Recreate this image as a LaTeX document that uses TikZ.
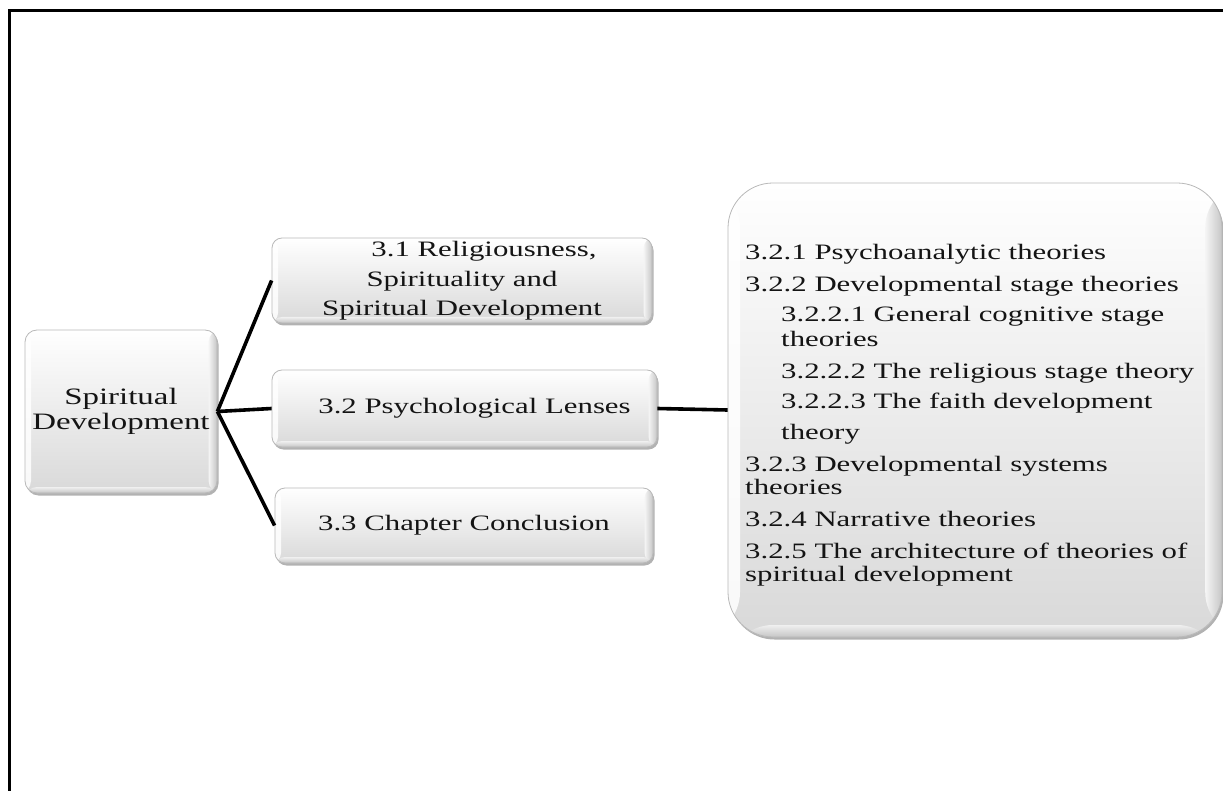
\documentclass[tikz,border=0pt]{standalone}
\usepackage{fontspec}
\setmainfont{Liberation Serif}[FakeStretch=1.4]
\usetikzlibrary{shadows}
\begin{document}
\begin{tikzpicture}[x=1pt,y=-1pt,
  font=\fontsize{22}{23}\selectfont,
  bevelbox/.style={draw=gray!55, line width=0.8pt, top color=white, bottom color=gray!30,
    text=black!92, inner sep=0pt, align=center,
    drop shadow={shadow xshift=1.5pt, shadow yshift=-2.5pt, opacity=0.3, fill=black},
    path picture={
      \fill[white, opacity=0.85] (path picture bounding box.north west)
        rectangle ([xshift=#1]path picture bounding box.south west);
      \shade[left color=gray!8, right color=gray!45]
        ([xshift=-1.4*#1]path picture bounding box.north east)
        rectangle (path picture bounding box.south east);
      \shade[top color=gray!12, bottom color=gray!45]
        ([yshift=#1]path picture bounding box.south west)
        rectangle (path picture bounding box.south east);
    }},
  bevelbox/.default=6pt,
  conn/.style={line width=3.6pt, black},
]
\useasboundingbox (0,0) rectangle (1223,791);

% page frame
\draw[line width=3pt] (9,791) -- (9,11) -- (1223,11);

% root
\node[bevelbox, rounded corners=12pt, minimum width=192pt, minimum height=163pt,
  font=\fontsize{23.5}{25}\selectfont]
  (sd) at (121,411.5) {Spiritual\\Development};

% sections
\node[bevelbox, rounded corners=10pt, minimum width=380pt, minimum height=85pt]
  (b1) at (462,280.5) {\hspace*{44pt}3.1 Religiousness,\\[7pt]Spirituality and\\[6pt]Spiritual Development};
\node[bevelbox, rounded corners=10pt, minimum width=385pt, minimum height=77pt]
  (b2) at (464.5,408.5) {\hspace*{20pt}3.2 Psychological Lenses};
\node[bevelbox, rounded corners=10pt, minimum width=378pt, minimum height=75pt]
  (b3) at (464,525.5) {3.3 Chapter Conclusion};

% subsection panel
\node[bevelbox=12pt, rounded corners=45pt, minimum width=494pt, minimum height=454pt]
  (big) at (975,410) {};
\node[anchor=north west, inner sep=0pt, align=left, text=black!92]
  (lst) at (745,244) {%
3.2.1 Psychoanalytic theories\\[9pt]
3.2.2 Developmental stage theories\\[7pt]
\hspace*{36pt}3.2.2.1 General cognitive stage\\[2pt]
\hspace*{36pt}theories\\[9pt]
\hspace*{36pt}3.2.2.2 The religious stage theory\\[7pt]
\hspace*{36pt}3.2.2.3 The faith development\\[8pt]
\hspace*{36pt}theory\\[9pt]
3.2.3 Developmental systems\\
theories\\[9pt]
3.2.4 Narrative theories\\[9pt]
3.2.5 The architecture of theories of\\
spiritual development};

% connectors
\draw[conn] (sd.east) -- (b1.west);
\draw[conn] (sd.east) -- (b2.west);
\draw[conn] (sd.east) -- (b3.west);
\draw[conn] (b2.east) -- (big.west);
\end{tikzpicture}
\end{document}
